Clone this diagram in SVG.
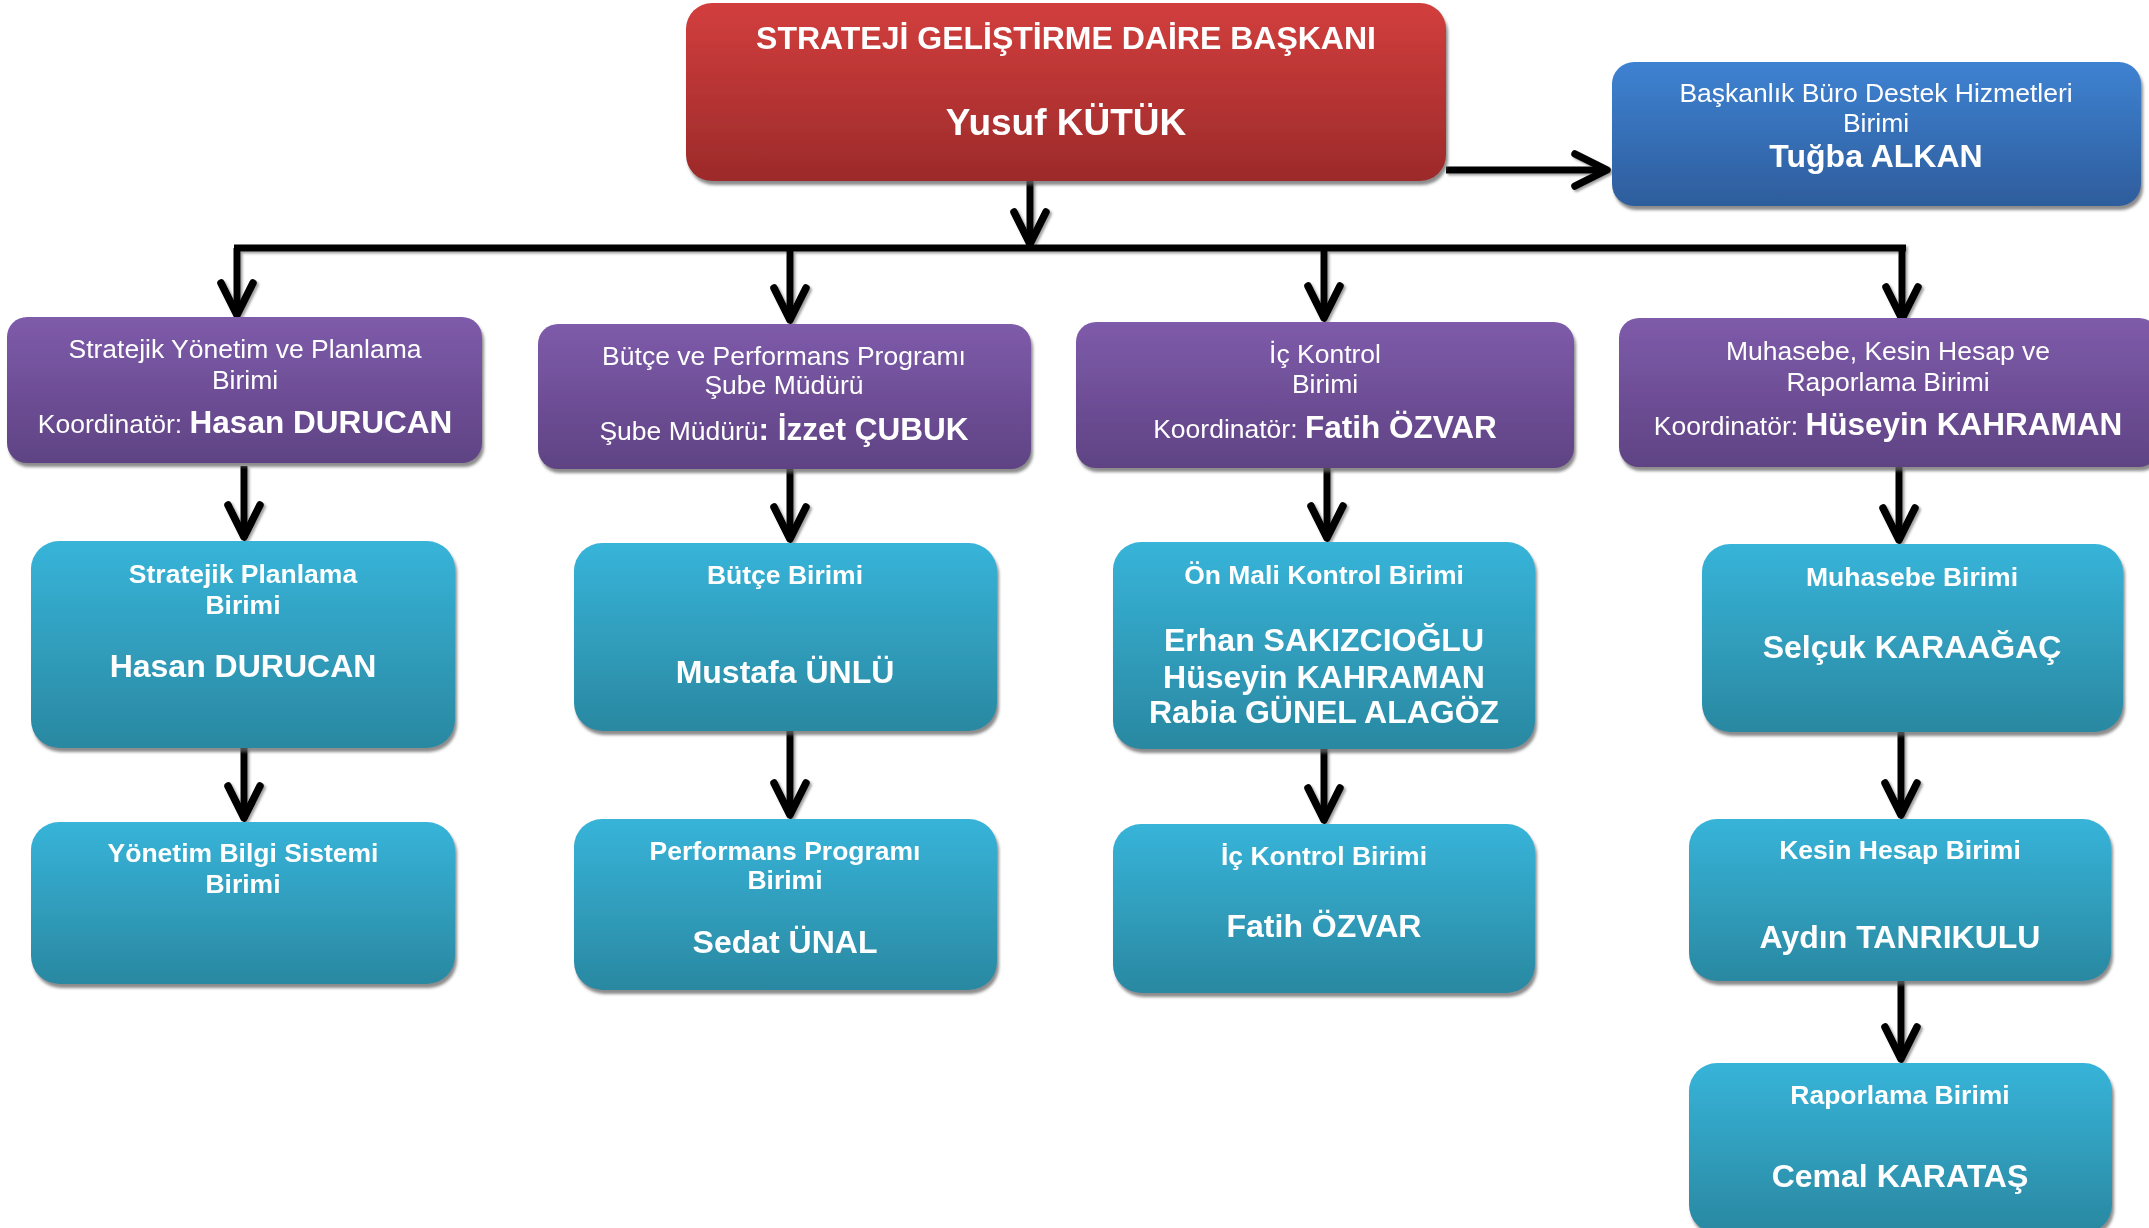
<svg xmlns="http://www.w3.org/2000/svg" width="2149" height="1228" viewBox="0 0 2149 1228">
<defs>
<linearGradient id="gRed" x1="0" y1="0" x2="0" y2="1"><stop offset="0" stop-color="#D23E3D"/><stop offset="1" stop-color="#9C2A2A"/></linearGradient>
<linearGradient id="gBlue" x1="0" y1="0" x2="0" y2="1"><stop offset="0" stop-color="#3E82D2"/><stop offset="1" stop-color="#2E5D9C"/></linearGradient>
<linearGradient id="gPurple" x1="0" y1="0" x2="0" y2="1"><stop offset="0" stop-color="#7E5BAA"/><stop offset="1" stop-color="#5F4384"/></linearGradient>
<linearGradient id="gCyan" x1="0" y1="0" x2="0" y2="1"><stop offset="0" stop-color="#37B4D9"/><stop offset="1" stop-color="#2A88A1"/></linearGradient>
<filter id="sh" x="-5%" y="-5%" width="110%" height="115%"><feDropShadow dx="2" dy="4" stdDeviation="1.5" flood-color="#666" flood-opacity="0.75"/></filter>
<filter id="lsh" x="-5%" y="-5%" width="110%" height="110%"><feDropShadow dx="2" dy="2" stdDeviation="1" flood-color="#444" flood-opacity="0.5"/></filter>
<marker id="ah" markerUnits="userSpaceOnUse" viewBox="-40 -22 50 44" markerWidth="50" markerHeight="44" refX="0" refY="0" orient="auto" overflow="visible">
<path d="M-32,-16 L0,0 L-32,16" fill="none" stroke="#000" stroke-width="7.5" stroke-linejoin="round" stroke-linecap="round"/>
</marker>
<style>
text{font-family:"Liberation Sans",Arial,sans-serif;fill:#fff;text-anchor:middle}
.r{font-size:26.5px}
.b{font-size:26.5px;font-weight:bold}
.n{font-size:32px;font-weight:bold}
.conn line{stroke:#000;stroke-width:7;fill:none}
.conn line.a{marker-end:url(#ah)}
</style>
</defs>

<g class="conn" id="connectors" filter="url(#lsh)">
<line class="a" x1="1030" y1="181" x2="1030" y2="244"/>
<line x1="234" y1="248" x2="1906" y2="248"/>
<line class="a" x1="237" y1="248" x2="237" y2="315"/>
<line class="a" x1="790" y1="248" x2="790" y2="320"/>
<line class="a" x1="1324" y1="248" x2="1324" y2="318"/>
<line class="a" x1="1902" y1="248" x2="1902" y2="319"/>
<line class="a" x1="1446" y1="170" x2="1607" y2="170"/>
<line class="a" x1="244" y1="466" x2="244" y2="537"/>
<line class="a" x1="244" y1="748" x2="244" y2="818"/>
<line class="a" x1="790" y1="469" x2="790" y2="539"/>
<line class="a" x1="790" y1="731" x2="790" y2="815"/>
<line class="a" x1="1327" y1="468" x2="1327" y2="538"/>
<line class="a" x1="1324" y1="749" x2="1324" y2="820"/>
<line class="a" x1="1899" y1="467" x2="1899" y2="540"/>
<line class="a" x1="1901" y1="732" x2="1901" y2="815"/>
<line class="a" x1="1901" y1="981" x2="1901" y2="1059"/>
</g>

<g id="n-baskan" filter="url(#sh)">
<rect x="686" y="3" width="760" height="178" rx="26" fill="url(#gRed)"/>
<text x="1066" y="49" style="font-size:32px;font-weight:bold">STRATEJİ GELİŞTİRME DAİRE BAŞKANI</text>
<text x="1066" y="135" style="font-size:37px;font-weight:bold">Yusuf KÜTÜK</text>
</g>

<g id="n-buro" filter="url(#sh)">
<rect x="1612" y="62" width="529" height="144" rx="22" fill="url(#gBlue)"/>
<text x="1876" y="102" class="r">Başkanlık Büro Destek Hizmetleri</text>
<text x="1876" y="132" class="r">Birimi</text>
<text x="1876" y="167" style="font-size:32px;font-weight:bold">Tuğba ALKAN</text>
</g>

<g id="n-syp" filter="url(#sh)">
<rect x="7" y="317" width="475" height="146" rx="20" fill="url(#gPurple)"/>
<text x="245" y="358" class="r">Stratejik Yönetim ve Planlama</text>
<text x="245" y="389" class="r">Birimi</text>
<text x="245" y="433" class="r">Koordinatör: <tspan style="font-size:31.5px;font-weight:bold">Hasan DURUCAN</tspan></text>
</g>

<g id="n-bpp" filter="url(#sh)">
<rect x="538" y="324" width="493" height="145" rx="20" fill="url(#gPurple)"/>
<text x="784" y="365" class="r">Bütçe ve Performans Programı</text>
<text x="784" y="394" class="r">Şube Müdürü</text>
<text x="784" y="440" class="r">Şube Müdürü<tspan style="font-size:31.5px;font-weight:bold">: İzzet ÇUBUK</tspan></text>
</g>

<g id="n-ick" filter="url(#sh)">
<rect x="1076" y="322" width="498" height="146" rx="20" fill="url(#gPurple)"/>
<text x="1325" y="363" class="r">İç Kontrol</text>
<text x="1325" y="393" class="r">Birimi</text>
<text x="1325" y="438" class="r">Koordinatör: <tspan style="font-size:31.5px;font-weight:bold">Fatih ÖZVAR</tspan></text>
</g>

<g id="n-mkhr" filter="url(#sh)">
<rect x="1619" y="318" width="540" height="149" rx="20" fill="url(#gPurple)"/>
<text x="1888" y="360" class="r">Muhasebe, Kesin Hesap ve</text>
<text x="1888" y="391" class="r">Raporlama Birimi</text>
<text x="1888" y="435" class="r">Koordinatör: <tspan style="font-size:31.5px;font-weight:bold">Hüseyin KAHRAMAN</tspan></text>
</g>

<g id="n-sp" filter="url(#sh)">
<rect x="31" y="541" width="424" height="207" rx="28" fill="url(#gCyan)"/>
<text x="243" y="583" class="b">Stratejik Planlama</text>
<text x="243" y="614" class="b">Birimi</text>
<text x="243" y="677" class="n">Hasan DURUCAN</text>
</g>

<g id="n-ybs" filter="url(#sh)">
<rect x="31" y="822" width="424" height="162" rx="28" fill="url(#gCyan)"/>
<text x="243" y="862" class="b">Yönetim Bilgi Sistemi</text>
<text x="243" y="893" class="b">Birimi</text>
</g>

<g id="n-butce" filter="url(#sh)">
<rect x="574" y="543" width="423" height="188" rx="28" fill="url(#gCyan)"/>
<text x="785" y="584" class="b">Bütçe Birimi</text>
<text x="785" y="683" class="n">Mustafa ÜNLÜ</text>
</g>

<g id="n-pp" filter="url(#sh)">
<rect x="574" y="819" width="423" height="171" rx="28" fill="url(#gCyan)"/>
<text x="785" y="860" class="b">Performans Programı</text>
<text x="785" y="889" class="b">Birimi</text>
<text x="785" y="953" class="n">Sedat ÜNAL</text>
</g>

<g id="n-onmali" filter="url(#sh)">
<rect x="1113" y="542" width="422" height="207" rx="28" fill="url(#gCyan)"/>
<text x="1324" y="584" class="b">Ön Mali Kontrol Birimi</text>
<text x="1324" y="651" class="n">Erhan SAKIZCIOĞLU</text>
<text x="1324" y="688" class="n">Hüseyin KAHRAMAN</text>
<text x="1324" y="723" class="n">Rabia GÜNEL ALAGÖZ</text>
</g>

<g id="n-ickb" filter="url(#sh)">
<rect x="1113" y="824" width="422" height="169" rx="28" fill="url(#gCyan)"/>
<text x="1324" y="865" class="b">İç Kontrol Birimi</text>
<text x="1324" y="937" class="n">Fatih ÖZVAR</text>
</g>

<g id="n-muh" filter="url(#sh)">
<rect x="1702" y="544" width="421" height="188" rx="28" fill="url(#gCyan)"/>
<text x="1912" y="586" class="b">Muhasebe Birimi</text>
<text x="1912" y="658" class="n">Selçuk KARAAĞAÇ</text>
</g>

<g id="n-kesin" filter="url(#sh)">
<rect x="1689" y="819" width="422" height="162" rx="28" fill="url(#gCyan)"/>
<text x="1900" y="859" class="b">Kesin Hesap Birimi</text>
<text x="1900" y="948" class="n">Aydın TANRIKULU</text>
</g>

<g id="n-rapor" filter="url(#sh)">
<rect x="1689" y="1063" width="423" height="170" rx="28" fill="url(#gCyan)"/>
<text x="1900" y="1104" class="b">Raporlama Birimi</text>
<text x="1900" y="1187" class="n">Cemal KARATAŞ</text>
</g>
</svg>
